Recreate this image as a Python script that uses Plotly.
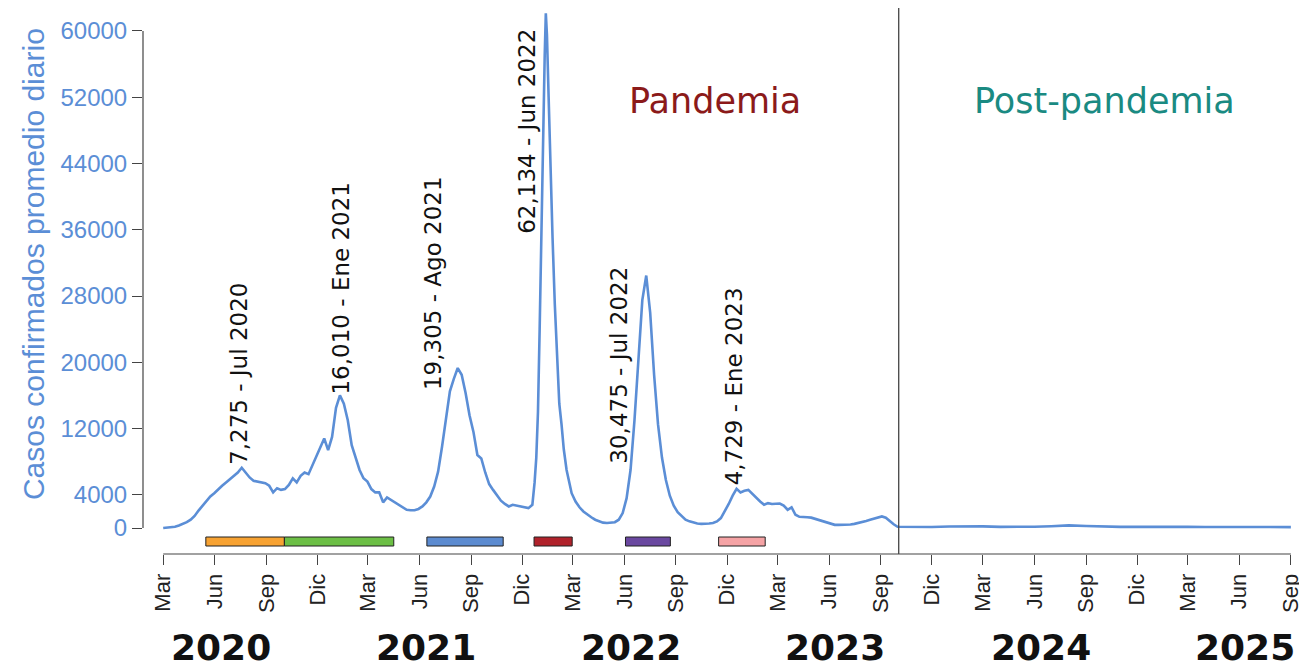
import pandas as pd
import plotly.graph_objects as go

# ---------------- DATA ----------------
# Weekly 7-day average confirmed cases, segment 1: from 2020-03-01, weekly
seg1_start = "2020-03-01"
seg1_values = [
    0, 30, 80, 150, 300, 480, 700, 1000, 1450, 2100,
    2700, 3200, 3800, 4200, 4700, 5100, 5500, 5900, 6300, 6700,
    7275, 6700, 6100, 5700, 5600, 5500, 5400, 5100, 4300, 4800,
    4600, 4700, 5200, 6000, 5500, 6300, 6700, 6500, 7600, 8700,
    9600, 10800, 9400, 11000, 14500, 16010, 15000, 13000, 10000, 8400,
    7000, 6000, 5600, 4700, 4300, 4300, 3100, 3700, 3400, 3000,
    2800, 2500, 2200, 2150, 2150, 2300, 2600, 3100, 3800, 5000,
    6800, 9800, 13000, 16500, 18000, 19305, 18500, 16300, 13600, 11600,
    8800, 8400, 6700, 5300, 4600, 3900, 3300, 2900, 2600, 2800,
    2700, 2600, 2500, 2400, 2800,
]
# Omicron wave (irregular dates)
omicron_dates = [
    "2021-12-23", "2021-12-26", "2021-12-29", "2022-01-01", "2022-01-04",
    "2022-01-07", "2022-01-10", "2022-01-12", "2022-01-14", "2022-01-17",
    "2022-01-20", "2022-01-24", "2022-01-28", "2022-02-01", "2022-02-05",
    "2022-02-09", "2022-02-13", "2022-02-18", "2022-02-23",
]
omicron_values = [
    5500, 8500, 14000, 24000, 36000,
    47000, 57000, 62134, 59500, 52000,
    44000, 35000, 27000, 20000, 15000,
    12500, 9500, 7000, 5200,
]
# Segment 3: weekly from 2022-02-27
seg3_start = "2022-02-27"
seg3_values = [
    4200, 3200, 2500, 2000, 1600, 1300, 1000, 800, 650, 600,
    650, 700, 1000, 1800, 3600, 7000, 13000, 21000, 27500, 30475,
    26000, 18500, 12500, 8500, 5800, 3900, 2700, 1900, 1400, 1000,
    800, 650, 550, 500, 500, 550, 600, 800, 1200, 2000,
    2900, 3900, 4729, 4300, 4500, 4600, 4100, 3600, 3200, 2800,
    3000, 2900, 2900, 2950, 2700, 2200, 2500, 1600, 1350, 1350,
    1300, 1250, 1100, 900, 750, 600, 450, 380, 380, 380,
    400, 430, 500, 600, 750, 850, 1000, 1150, 1300, 1400,
    1250, 800, 450, 150,
]
# Post-pandemic, monthly
post_start = "2023-11-01"
post_values = [
    110, 120, 180, 220, 200, 140, 120, 150, 220, 320,
    240, 160, 130, 140, 160, 150, 130, 120, 130, 150,
    140, 120, 110,
]

# Waves (colored bars)
wave_start = ["2020-05-16", "2020-10-03", "2021-06-14", "2021-12-22", "2022-06-03", "2022-11-16"]
wave_end = ["2020-10-03", "2021-04-16", "2021-10-28", "2022-02-28", "2022-08-22", "2023-02-07"]
wave_colors = ["#F7A232", "#6CBF45", "#5C8BD0", "#B0222B", "#6A48A0", "#F5A3A5"]

# Peak labels
peak_labels = ["7,275 - Jul 2020", "16,010 - Ene 2021", "19,305 - Ago 2021",
               "62,134 - Jun 2022", "30,475 - Jul 2022", "4,729 - Ene 2023"]

# Axis ticks
tick_dates = pd.date_range("2020-03-01", "2025-09-01", freq="3MS")
month_names = {3: "Mar", 6: "Jun", 9: "Sep", 12: "Dic"}
tick_text = [month_names[d.month] for d in tick_dates]
y_ticks = [0, 4000, 12000, 20000, 28000, 36000, 44000, 52000, 60000]
years = ["2020", "2021", "2022", "2023", "2024", "2025"]
split_date = "2023-10-03"

# ---------------- BUILD SERIES ----------------
d1 = pd.date_range(seg1_start, periods=len(seg1_values), freq="7D")
d2 = pd.to_datetime(omicron_dates)
d3 = pd.date_range(seg3_start, periods=len(seg3_values), freq="7D")
d4 = pd.date_range(post_start, periods=len(post_values), freq="MS")
dates = list(d1) + list(d2) + list(d3) + list(d4)
values = seg1_values + omicron_values + seg3_values + post_values

BLUE = "#5B8ED6"
fig = go.Figure()
fig.add_trace(go.Scatter(x=dates, y=values, mode="lines",
                         line=dict(color=BLUE, width=2.6), hoverinfo="skip",
                         showlegend=False))

Y0, Y1 = -3138, 62764
fig.update_layout(
    width=1299, height=668,
    margin=dict(l=143, r=7, t=8, b=114, autoexpand=False),
    paper_bgcolor="white", plot_bgcolor="white",
    showlegend=False,
    xaxis=dict(
        type="date", range=["2020-01-25", "2025-09-03"], automargin=False,
        tickvals=list(tick_dates), ticktext=tick_text, tickangle=-90,
        ticklabeloverflow="allow",
        ticks="outside", ticklen=10, tickwidth=1.2, tickcolor="#444",
        tickfont=dict(family="Liberation Sans, Arial", size=22, color="#222"),
        showline=False, showgrid=False, zeroline=False,
    ),
    yaxis=dict(
        range=[Y0, Y1], tickvals=y_ticks, ticktext=[str(v) for v in y_ticks],
        automargin=False,
        ticks="outside", ticklen=10, tickwidth=1.2, tickcolor="#444",
        tickfont=dict(family="Liberation Sans, Arial", size=24, color=BLUE),
        showline=False, showgrid=False, zeroline=False,
    ),
)

shapes = []
# axis lines (R style)
shapes.append(dict(type="line", xref="x", yref="paper", x0=tick_dates[0], x1=tick_dates[-1],
                   y0=0, y1=0, line=dict(color="#444", width=1.2)))
shapes.append(dict(type="line", xref="paper", yref="y", x0=0, x1=0,
                   y0=y_ticks[0], y1=y_ticks[-1], line=dict(color="#444", width=1.2)))
# split line
shapes.append(dict(type="line", xref="x", yref="paper", x0=split_date, x1=split_date,
                   y0=0, y1=1, line=dict(color="#444", width=1.3)))
# wave bars
for s, e, c in zip(wave_start, wave_end, wave_colors):
    shapes.append(dict(type="rect", xref="x", yref="y", x0=s, x1=e, y0=-2173, y1=-1086,
                       fillcolor=c, line=dict(color="#222", width=1)))
fig.update_layout(shapes=shapes)

# peak labels (positions)
label_x = ["2020-07-14", "2021-01-12", "2021-06-25", "2021-12-10", "2022-05-21", "2022-12-14"]
label_y = [7846, 16300, 16900, 35730, 7966, 5430]
for t, lx, ly in zip(peak_labels, label_x, label_y):
    fig.add_annotation(x=lx, y=ly, text=t, textangle=-90, showarrow=False,
                       xanchor="center", yanchor="bottom", yshift=-4,
                       font=dict(family="DejaVu Sans", size=23, color="#111"))

# period titles
fig.add_annotation(x="2022-11-09", y=0.83, yref="paper", text="Pandemia", showarrow=False,
                   xanchor="center", yanchor="middle",
                   font=dict(family="DejaVu Sans", size=35, color="#8B1A1A"))
fig.add_annotation(x="2024-10-03", y=0.83, yref="paper", text="Post-pandemia", showarrow=False,
                   xanchor="center", yanchor="middle",
                   font=dict(family="DejaVu Sans", size=35, color="#1A8A82"))

# year labels
for yr in years:
    fig.add_annotation(x=f"{yr}-06-12", y=-0.172, yref="paper", text=f"<b>{yr}</b>",
                       showarrow=False, xanchor="center", yanchor="middle",
                       font=dict(family="DejaVu Sans", size=36, color="#111"))

# y axis title
fig.add_annotation(x=0, xref="paper", xshift=-110, y=0.531, yref="paper",
                   xanchor="center", yanchor="middle",
                   text="Casos confirmados promedio diario", textangle=-90, showarrow=False,
                   font=dict(family="Liberation Sans, Arial", size=30, color=BLUE))

fig.write_html("out.html", config={"displayModeBar": False},
               post_script="document.body.style.margin='0';")
